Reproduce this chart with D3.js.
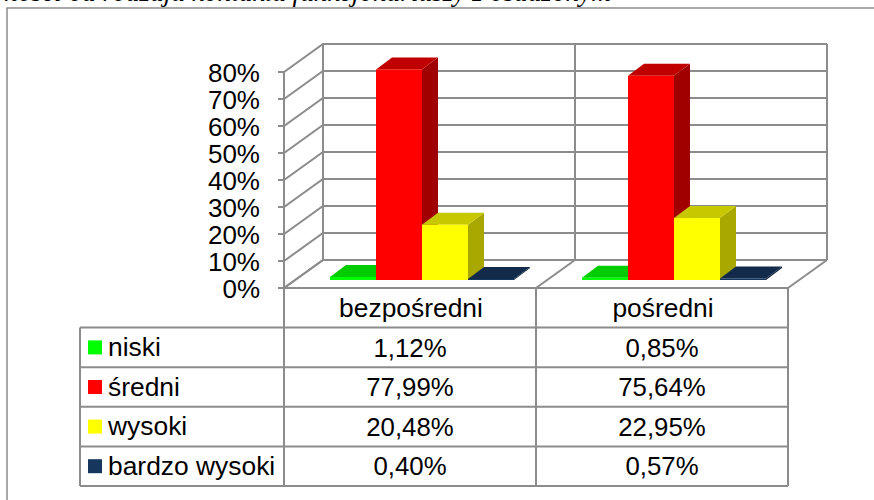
<!DOCTYPE html>
<html>
<head>
<meta charset="utf-8">
<script src="https://cdnjs.cloudflare.com/ajax/libs/d3/7.8.5/d3.min.js"></script>
<style>
html, body { margin: 0; padding: 0; background: #fff; }
svg { display: block; }
text { font-family: "Liberation Sans", Arial, sans-serif; fill: #000; }
</style>
</head>
<body>
<div id="chart"></div>
<script>
// data
var categories = ['bezpośredni', 'pośredni'];
var seriesNames = ['niski', 'średni', 'wysoki', 'bardzo wysoki'];
var seriesColors = ['#00ff00', '#ff0000', '#ffff00', '#17365d'];
var topColors = ['#00cc00', '#c00000', '#c8c800', '#122b4a'];
var sideColors = ['#00a000', '#a00000', '#a8a800', '#0e2138'];
var niski = [1.12, 0.85];
var sredni = [77.99, 75.64];
var wysoki = [20.48, 22.95];
var bardzoWysoki = [0.40, 0.57];
var seriesValues = [niski, sredni, wysoki, bardzoWysoki];
var tickValues = [0, 10, 20, 30, 40, 50, 60, 70, 80];
var titleText = 'ności od rodzaju kontaktu funkcjonariuszy z osadzonym';

var width = 874, height = 500;
var grey = '#8c8c8c';

var svg = d3.select('#chart').append('svg')
    .attr('width', width)
    .attr('height', height);

// scales, plot front edge runs from 284 to 788, 0% at 288 and 80% at 72
var x0 = d3.scaleBand().domain(categories).range([284, 788]);
var y = d3.scaleLinear().domain([0, 80]).range([288, 72]);
var depthX = 39, depthY = -28;

// page frame and the clipped caption above it
svg.append('path')
    .attr('d', 'M7,500V8H874')
    .attr('fill', 'none')
    .attr('stroke', grey)
    .attr('stroke-width', 1.5);
svg.append('text')
    .attr('x', 4)
    .attr('y', 1)
    .style('font-family', '"Liberation Serif", serif')
    .style('font-style', 'italic')
    .style('font-size', '27.3px')
    .text(titleText);

// walls and floor
var grid = svg.append('g')
    .attr('fill', 'none')
    .attr('stroke', grey)
    .attr('stroke-width', 2);

tickValues.forEach(function(t) {
    grid.append('path').attr('d', d3.line()([
        [278, y(t)],
        [x0.range()[0], y(t)],
        [x0.range()[0] + depthX, y(t) + depthY],
        [x0.range()[1] + depthX, y(t) + depthY]
    ]));
});
grid.append('path').attr('d', d3.line()([[284, y(0)], [284, y(80)]]));
grid.append('path').attr('d', d3.line()([[284 + depthX, y(0) + depthY], [284 + depthX, y(80) + depthY]]));
grid.append('path').attr('d', d3.line()([[788 + depthX, y(0) + depthY], [788 + depthX, y(80) + depthY]]));
grid.append('path').attr('d', d3.line()([[536 + depthX, y(0) + depthY], [536 + depthX, y(80) + depthY]]));
// floor edges
[284, 536, 788].forEach(function(fx) {
    grid.append('path').attr('d', d3.line()([[fx, y(0)], [fx + depthX, y(0) + depthY]]));
});
grid.append('path').attr('d', d3.line()([[284, y(0)], [788, y(0)]]));

// y labels
svg.append('g').selectAll('text')
    .data(tickValues)
    .join('text')
    .attr('x', 260)
    .attr('y', function(d) { return y(d) + 1; })
    .attr('dy', '0.36em')
    .attr('text-anchor', 'end')
    .style('font-size', '26px')
    .text(function(d) { return d + '%'; });

// bars, drawn back to front inside each category
var barW = 46;
var offX = 46, baseY = -8, barDx = 16, barDy = -12;

function barPoints(cat, s, v) {
    var left = x0(cat) + offX + s * barW;
    var bottom = y(0) + baseY;
    var top = bottom - (y(0) - y(v));
    return {left: left, right: left + barW, bottom: bottom, top: top};
}

categories.forEach(function(cat, c) {
    seriesNames.forEach(function(name, s) {
        var b = barPoints(cat, s, seriesValues[s][c]);
        var g = svg.append('g');
        g.append('polygon')
            .attr('points', [[b.right, b.bottom], [b.right + barDx, b.bottom + barDy], [b.right + barDx, b.top + barDy], [b.right, b.top]].join(' '))
            .attr('fill', sideColors[s]);
        g.append('polygon')
            .attr('points', [[b.left, b.top], [b.left + barDx, b.top + barDy], [b.right + barDx, b.top + barDy], [b.right, b.top]].join(' '))
            .attr('fill', topColors[s]);
        g.append('rect')
            .attr('x', b.left)
            .attr('y', b.top)
            .attr('width', barW)
            .attr('height', b.bottom - b.top)
            .attr('fill', seriesColors[s]);
    });
});

// data table under the plot
var rowY = d3.scaleBand().domain(d3.range(5)).range([288, 486]);
var table = svg.append('g')
    .attr('fill', 'none')
    .attr('stroke', grey)
    .attr('stroke-width', 2);
d3.range(1, 6).forEach(function(r) {
    var yy = r === 5 ? 486 : rowY(r);
    table.append('path').attr('d', d3.line()([[80, yy], [788, yy]]));
});
table.append('path').attr('d', d3.line()([[80, rowY(1)], [80, 486]]));
[284, 536, 788].forEach(function(fx) {
    table.append('path').attr('d', d3.line()([[fx, 288], [fx, 486]]));
});

svg.append('g').selectAll('text')
    .data(categories)
    .join('text')
    .attr('x', function(d) { return x0(d) + x0.bandwidth() / 2 + 1; })
    .attr('y', rowY(0) + rowY.bandwidth() / 2)
    .attr('dy', '0.36em')
    .attr('text-anchor', 'middle')
    .style('font-size', '26.4px')
    .text(function(d) { return d; });

function fmt(v) { return v.toFixed(2).replace('.', ',') + '%'; }

seriesNames.forEach(function(name, s) {
    var cy = rowY(s + 1) + rowY.bandwidth() / 2;
    svg.append('rect')
        .attr('x', 88)
        .attr('y', cy - 7)
        .attr('width', 14)
        .attr('height', 14)
        .attr('fill', seriesColors[s]);
    svg.append('text')
        .attr('x', 108)
        .attr('y', cy - 1)
        .attr('dy', '0.36em')
        .style('font-size', '26.4px')
        .text(name);
    categories.forEach(function(cat, c) {
        svg.append('text')
            .attr('x', x0(cat) + x0.bandwidth() / 2)
            .attr('y', cy)
            .attr('dy', '0.36em')
            .attr('text-anchor', 'middle')
            .style('font-size', '25.8px')
            .text(fmt(seriesValues[s][c]));
    });
});
</script>
</body>
</html>
